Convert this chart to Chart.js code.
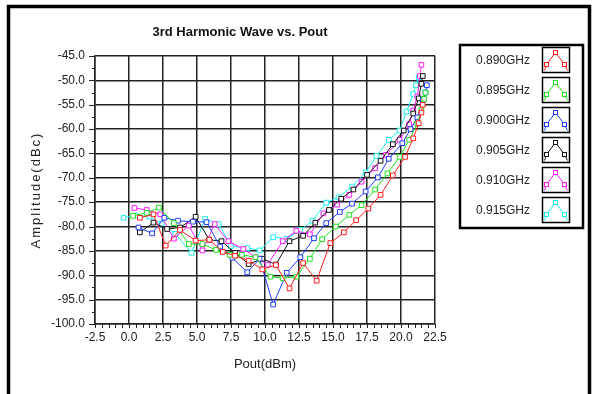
<!DOCTYPE html>
<html>
<head>
<meta charset="utf-8">
<script src="https://cdn.jsdelivr.net/npm/chart.js@4/dist/chart.umd.min.js"></script>
<style>
  html, body { margin: 0; padding: 0; background: #fff; }
  canvas { display: block; }
</style>
</head>
<body>
<canvas id="harmonic" width="599" height="394"></canvas>
<script>
// Frequencies in the legend
const freqs = ['0.890GHz', '0.895GHz', '0.900GHz', '0.905GHz', '0.910GHz', '0.915GHz'];
const colors = ['#ff1c1c', '#22e022', '#1f3cff', '#111111', '#ff1cff', '#1ceeee'];

// Pout (dBm) / amplitude (dBc) for each frequency
const pout890 = [0.8, 1.8, 2.7, 3.75, 4.9, 5.9, 6.9, 7.8, 8.8, 9.8, 10.8, 11.8, 12.8, 13.8, 14.8, 15.8, 16.7, 17.6, 18.5, 19.4, 20.3, 20.9, 21.3, 21.5, 21.6];
const amp890  = [-78.2, -77.5, -83.9, -80.7, -82.9, -82.7, -85.2, -86, -87, -88.8, -87.9, -92.7, -87.5, -91.1, -83.4, -81.2, -78.7, -76.3, -73.5, -69.5, -65.7, -61.9, -58.8, -56.6, -55];

const pout895 = [0.3, 1.3, 2.2, 3.3, 4.4, 5.4, 6.4, 7.4, 8.3, 9.3, 10.4, 11.3, 12.3, 13.3, 14.2, 15.2, 16.2, 17.1, 18.1, 19, 19.9, 20.6, 21.2, 21.5, 21.7, 21.8];
const amp895  = [-77.8, -77.2, -76.1, -79.3, -83.6, -83.6, -84.8, -85.8, -85.8, -86.3, -90.3, -90.6, -90.3, -86.6, -82.6, -80, -77.6, -75.6, -72.4, -69.1, -65.7, -62.2, -58.9, -56, -53.8, -52.5];

const pout900 = [0.7, 1.7, 2.6, 3.6, 4.7, 5.7, 6.7, 7.6, 8.7, 9.6, 10.6, 11.6, 12.6, 13.6, 14.5, 15.5, 16.4, 17.4, 18.3, 19.1, 20.1, 20.7, 21.2, 21.6, 21.8, 21.9];
const amp900  = [-80.2, -81.4, -78.2, -78.8, -79, -79.1, -84.1, -86.4, -89.4, -86.6, -96, -89.5, -86.3, -82.4, -79.3, -77, -75.3, -72.8, -69.9, -66.1, -62.9, -60, -57.6, -54, -52.5, -51];

const pout905 = [0.8, 1.8, 2.8, 3.75, 4.9, 5.9, 6.8, 7.8, 8.8, 9.8, 10.8, 11.8, 12.8, 13.7, 14.7, 15.6, 16.5, 17.5, 18.5, 19.4, 20.2, 20.9, 21.3, 21.5, 21.6];
const amp905  = [-81.2, -79.2, -80.5, -80.2, -78, -82.7, -83, -85.4, -87.7, -86.6, -87.8, -83, -81.9, -79.2, -76.6, -74.3, -72.4, -69.4, -66.5, -63.1, -60.3, -56.8, -53.7, -50.7, -49.1];

const pout910 = [0.4, 1.3, 2.3, 3.3, 4.4, 5.4, 6.3, 7.3, 8.4, 9.3, 10.2, 11.3, 12.3, 13.3, 14.3, 15.3, 16.2, 17.1, 18.1, 18.9, 19.9, 20.6, 20.9, 21.2, 21.4, 21.5];
const amp910  = [-76.2, -76.6, -77.5, -82.5, -79.8, -84.9, -79.5, -83, -84.6, -86.3, -87.8, -83, -80.9, -81.6, -77.3, -75.5, -73.5, -70.8, -68, -65.3, -62.2, -59, -56.2, -53.3, -49.1, -46.8];

const pout915 = [-0.4, 0.5, 1.5, 2.4, 3.4, 4.6, 5.6, 6.6, 7.5, 8.7, 9.6, 10.6, 11.6, 12.6, 13.5, 14.5, 15.4, 16.4, 17.4, 18.2, 19.1, 19.9, 20.4, 20.9, 21.1, 21.3];
const amp915  = [-78.2, -77.7, -78, -79.4, -81.5, -85.4, -78.4, -79.5, -84, -84.4, -84.9, -82.2, -82.5, -80.7, -78.8, -75.1, -74, -71.8, -68.9, -65.5, -62.2, -60.3, -56.4, -52.8, -51, -49.4];

const pouts = [pout890, pout895, pout900, pout905, pout910, pout915];
const amps = [amp890, amp895, amp900, amp905, amp910, amp915];

const FONT = "'Liberation Sans', Arial, sans-serif";

const datasets = freqs.map((f, i) => ({
    label: f,
    data: pouts[i].map((x, k) => ({ x: x, y: amps[i][k] })),
    borderColor: colors[i],
    backgroundColor: '#ffffff',
    borderWidth: 1,
    pointStyle: 'rect',
    pointRadius: 3.3,
    pointBorderWidth: 1,
    pointBorderColor: colors[i],
    pointBackgroundColor: '#ffffff',
    tension: 0
}));

// frame, title, y title, minor tick marks and the boxed legend
const decorations = {
    id: 'decorations',
    afterDraw(chart) {
        const ctx = chart.ctx;
        const area = chart.chartArea;
        const xs = chart.scales.x, ys = chart.scales.y;
        ctx.save();

        // outer frame
        ctx.strokeStyle = '#000';
        ctx.lineWidth = 3.5;
        ctx.beginPath();
        ctx.moveTo(8.5, 394);
        ctx.lineTo(8.5, 6.5);
        ctx.lineTo(589.5, 6.5);
        ctx.lineTo(589.5, 394);
        ctx.stroke();

        // title
        ctx.fillStyle = '#111';
        ctx.font = 'bold 13px ' + FONT;
        ctx.textAlign = 'center';
        ctx.textBaseline = 'middle';
        ctx.fillText('3rd Harmonic Wave vs. Pout', 240, 32);

        // y axis title
        ctx.save();
        ctx.translate(36, (area.top + area.bottom) / 2);
        ctx.rotate(-Math.PI / 2);
        ctx.font = '13px ' + FONT;
        ctx.fillStyle = '#222';
        ctx.letterSpacing = '2px';
        ctx.fillText('Amplitude(dBc)', 0, 0);
        ctx.restore();

        // y tick marks (major every 5, minor every 2.5)
        ctx.strokeStyle = '#222';
        ctx.lineWidth = 1;
        for (let v = -100; v <= -45; v += 2.5) {
            const y = Math.round(ys.getPixelForValue(v)) + 0.5;
            const len = (v % 5 === 0) ? 6 : 3;
            ctx.beginPath();
            ctx.moveTo(area.left - len, y);
            ctx.lineTo(area.left, y);
            ctx.stroke();
        }
        // x tick marks every 0.5
        for (let v = -2.5; v <= 22.5001; v += 0.5) {
            const x = Math.round(xs.getPixelForValue(v)) + 0.5;
            ctx.beginPath();
            ctx.moveTo(x, area.bottom);
            ctx.lineTo(x, area.bottom + 4);
            ctx.stroke();
        }

        // legend
        ctx.lineWidth = 2.5;
        ctx.strokeStyle = '#000';
        ctx.strokeRect(460, 45, 123, 183);
        ctx.font = '12px ' + FONT;
        ctx.textAlign = 'left';
        ctx.fillStyle = '#222';
        freqs.forEach((f, i) => {
            const cy = 61 + i * 30;
            ctx.fillText(f, 476, cy);
            const bx = 542.5, by = cy - 13.5;
            ctx.lineWidth = 1.5;
            ctx.strokeStyle = '#000';
            ctx.strokeRect(bx, by, 27, 25);
            ctx.strokeStyle = colors[i];
            ctx.lineWidth = 1;
            const pts = [[2, 23], [4, 17], [13, 5], [22, 17], [25, 23]];
            ctx.beginPath();
            pts.forEach((p, k) => k ? ctx.lineTo(bx + p[0], by + p[1]) : ctx.moveTo(bx + p[0], by + p[1]));
            ctx.stroke();
            [[4, 17], [13, 5], [22, 17]].forEach(p => {
                ctx.fillStyle = '#fff';
                ctx.fillRect(bx + p[0] - 2, by + p[1] - 2, 4, 4);
                ctx.strokeRect(bx + p[0] - 2, by + p[1] - 2, 4, 4);
            });
            ctx.fillStyle = '#222';
        });
        ctx.restore();
    }
};

new Chart(document.getElementById('harmonic'), {
    type: 'line',
    data: { datasets: datasets },
    plugins: [decorations],
    options: {
        responsive: false,
        animation: false,
        layout: { padding: { left: 0, right: 164, top: 56, bottom: 0 } },
        plugins: {
            legend: { display: false },
            title: { display: false },
            tooltip: { enabled: false }
        },
        scales: {
            x: {
                type: 'linear',
                min: -2.5,
                max: 22.5,
                afterFit(scale) { scale.height = 70; },
                grid: { color: '#222', lineWidth: 1.5, drawTicks: false },
                border: { color: '#222', width: 1.5 },
                ticks: {
                    stepSize: 2.5,
                    padding: 6,
                    color: '#222',
                    font: { family: FONT, size: 12 },
                    maxRotation: 0,
                    callback: v => v.toFixed(1)
                },
                title: {
                    display: true,
                    text: 'Pout(dBm)',
                    color: '#222',
                    font: { family: FONT, size: 13 },
                    padding: { top: 0, bottom: 22 }
                }
            },
            y: {
                type: 'linear',
                min: -100,
                max: -45,
                afterFit(scale) { scale.width = 95; },
                grid: { color: '#222', lineWidth: 1.5, drawTicks: false },
                border: { color: '#222', width: 1.5 },
                ticks: {
                    stepSize: 5,
                    padding: 10,
                    color: '#222',
                    font: { family: FONT, size: 12 },
                    callback: v => v.toFixed(1)
                },
                title: { display: false }
            }
        }
    }
});
</script>
</body>
</html>
